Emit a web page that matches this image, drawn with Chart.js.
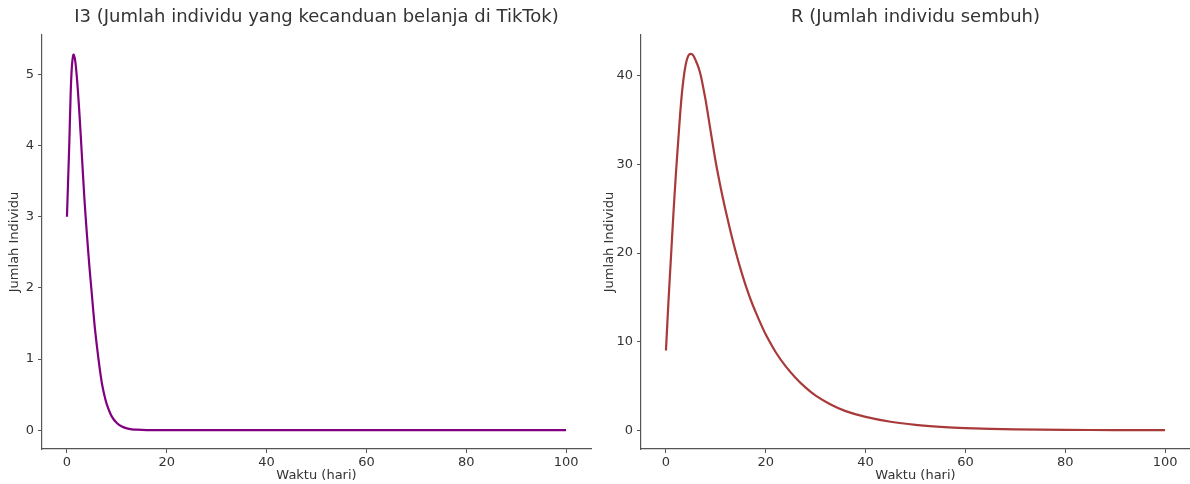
<!DOCTYPE html>
<html>
<head>
<meta charset="utf-8">
<script src="https://cdn.jsdelivr.net/npm/chart.js@4"></script>
<style>
  html, body { margin: 0; padding: 0; background: #fff; overflow: hidden; width: 1190px; height: 484px; }
  .wrap { position: absolute; top: 0; height: 484px; }
  /* each canvas is centred on its plot area so the title sits over the plot */
  #left { left: 0; width: 633px; }
  #right { left: 595px; width: 641px; }
</style>
</head>
<body>
<div class="wrap" id="left"><canvas id="i3Chart"></canvas></div>
<div class="wrap" id="right"><canvas id="rChart"></canvas></div>
<script>
// I3 - time (days) and values
const i3Time = [0, 0.25, 0.5, 0.75, 1.0, 1.3, 1.6, 2.0, 2.5, 3.0, 3.5, 4.0, 4.5, 5.0, 5.5, 6.0, 6.5, 7.0, 7.5, 8.0, 9, 10, 11, 12, 13, 14, 16, 20, 40, 60, 80, 100];
const i3Values = [3.0, 3.55, 4.1, 4.75, 5.12, 5.28, 5.22, 4.95, 4.45, 3.85, 3.25, 2.75, 2.3, 1.9, 1.5, 1.18, 0.9, 0.66, 0.49, 0.36, 0.19, 0.1, 0.05, 0.025, 0.012, 0.006, 0.0015, 0, 0, 0, 0, 0];

// R - time (days) and values
const rTime = [0, 0.5, 1, 1.5, 2, 2.5, 3, 3.5, 4, 4.5, 5, 5.5, 6, 6.5, 7, 7.5, 8, 9, 10, 11, 12, 13, 14, 15, 16, 17, 18, 19, 20, 22, 24, 26, 28, 30, 33, 36, 40, 45, 50, 55, 60, 70, 80, 90, 100];
const rValues = [9, 14.5, 19.5, 24.5, 29, 33, 36.8, 39.6, 41.4, 42.3, 42.5, 42.3, 41.7, 41, 40, 38.6, 37.1, 33.6, 30.2, 27.3, 24.7, 22.3, 20.1, 18.1, 16.3, 14.7, 13.3, 12, 10.8, 8.8, 7.2, 5.9, 4.8, 3.9, 2.9, 2.15, 1.5, 0.95, 0.6, 0.38, 0.24, 0.09, 0.035, 0.013, 0.005];

const xTicksStep = 20;

const FONT = "'DejaVu Sans', sans-serif";
const AXIS = "#555";
const TEXT = "#333";

function points(xs, ys) {
  return xs.map((x, i) => ({ x: x, y: ys[i] }));
}

function makeChart(id, cfg) {
  return new Chart(document.getElementById(id), {
    type: "line",
    data: {
      datasets: [{
        data: points(cfg.time, cfg.values),
        borderColor: cfg.color,
        borderWidth: 2.2,
        pointRadius: 0,
        fill: false,
        tension: 0.3
      }]
    },
    options: {
      responsive: true,
      maintainAspectRatio: false,
      animation: false,
      layout: { padding: 0 },
      plugins: {
        legend: { display: false },
        tooltip: { enabled: false },
        title: {
          display: true,
          text: cfg.title,
          color: TEXT,
          font: { family: FONT, size: 18, weight: "normal" },
          padding: { top: 7, bottom: 6.4 }
        }
      },
      scales: {
        x: {
          type: "linear",
          min: -5,
          max: 105,
          afterFit: s => { s.height = 35; },
          ticks: {
            stepSize: xTicksStep,
            includeBounds: false,
            color: TEXT,
            padding: 2,
            maxRotation: 0,
            font: { family: FONT, size: 13 }
          },
          grid: { display: true, drawOnChartArea: false, tickLength: 4, color: AXIS, lineWidth: 1 },
          border: { display: true, color: AXIS, width: 1.2 },
          title: {
            display: true,
            text: "Waktu (hari)",
            color: TEXT,
            font: { family: FONT, size: 13 },
            padding: { top: 0, bottom: 1 }
          }
        },
        y: {
          min: cfg.yMin,
          max: cfg.yMax,
          afterFit: s => { s.width = cfg.yWidth; },
          ticks: {
            stepSize: cfg.yStep,
            includeBounds: false,
            color: TEXT,
            padding: 4,
            font: { family: FONT, size: 13 }
          },
          grid: { display: true, drawOnChartArea: false, tickLength: 4, color: AXIS, lineWidth: 1 },
          border: { display: true, color: AXIS, width: 1.2 },
          title: {
            display: true,
            text: "Jumlah Individu",
            color: TEXT,
            font: { family: FONT, size: 13 },
            padding: { top: cfg.yTitlePad, bottom: 0 }
          }
        },
        // empty spacer on the right, only there to keep the plot centred
        spacer: {
          type: "linear",
          position: "right",
          afterFit: s => { s.width = cfg.yWidth; },
          ticks: { display: false },
          grid: { display: false },
          border: { display: false }
        }
      }
    }
  });
}

makeChart("i3Chart", {
  time: i3Time,
  values: i3Values,
  color: "#800080",
  title: "I3 (Jumlah individu yang kecanduan belanja di TikTok)",
  yMin: -0.265,
  yMax: 5.555,
  yStep: 1,
  yWidth: 42,
  yTitlePad: 7
});

makeChart("rChart", {
  time: rTime,
  values: rValues,
  color: "#a83a3a",
  title: "R (Jumlah individu sembuh)",
  yMin: -2.125,
  yMax: 44.625,
  yStep: 10,
  yWidth: 46,
  yTitlePad: 7
});
</script>
</body>
</html>
